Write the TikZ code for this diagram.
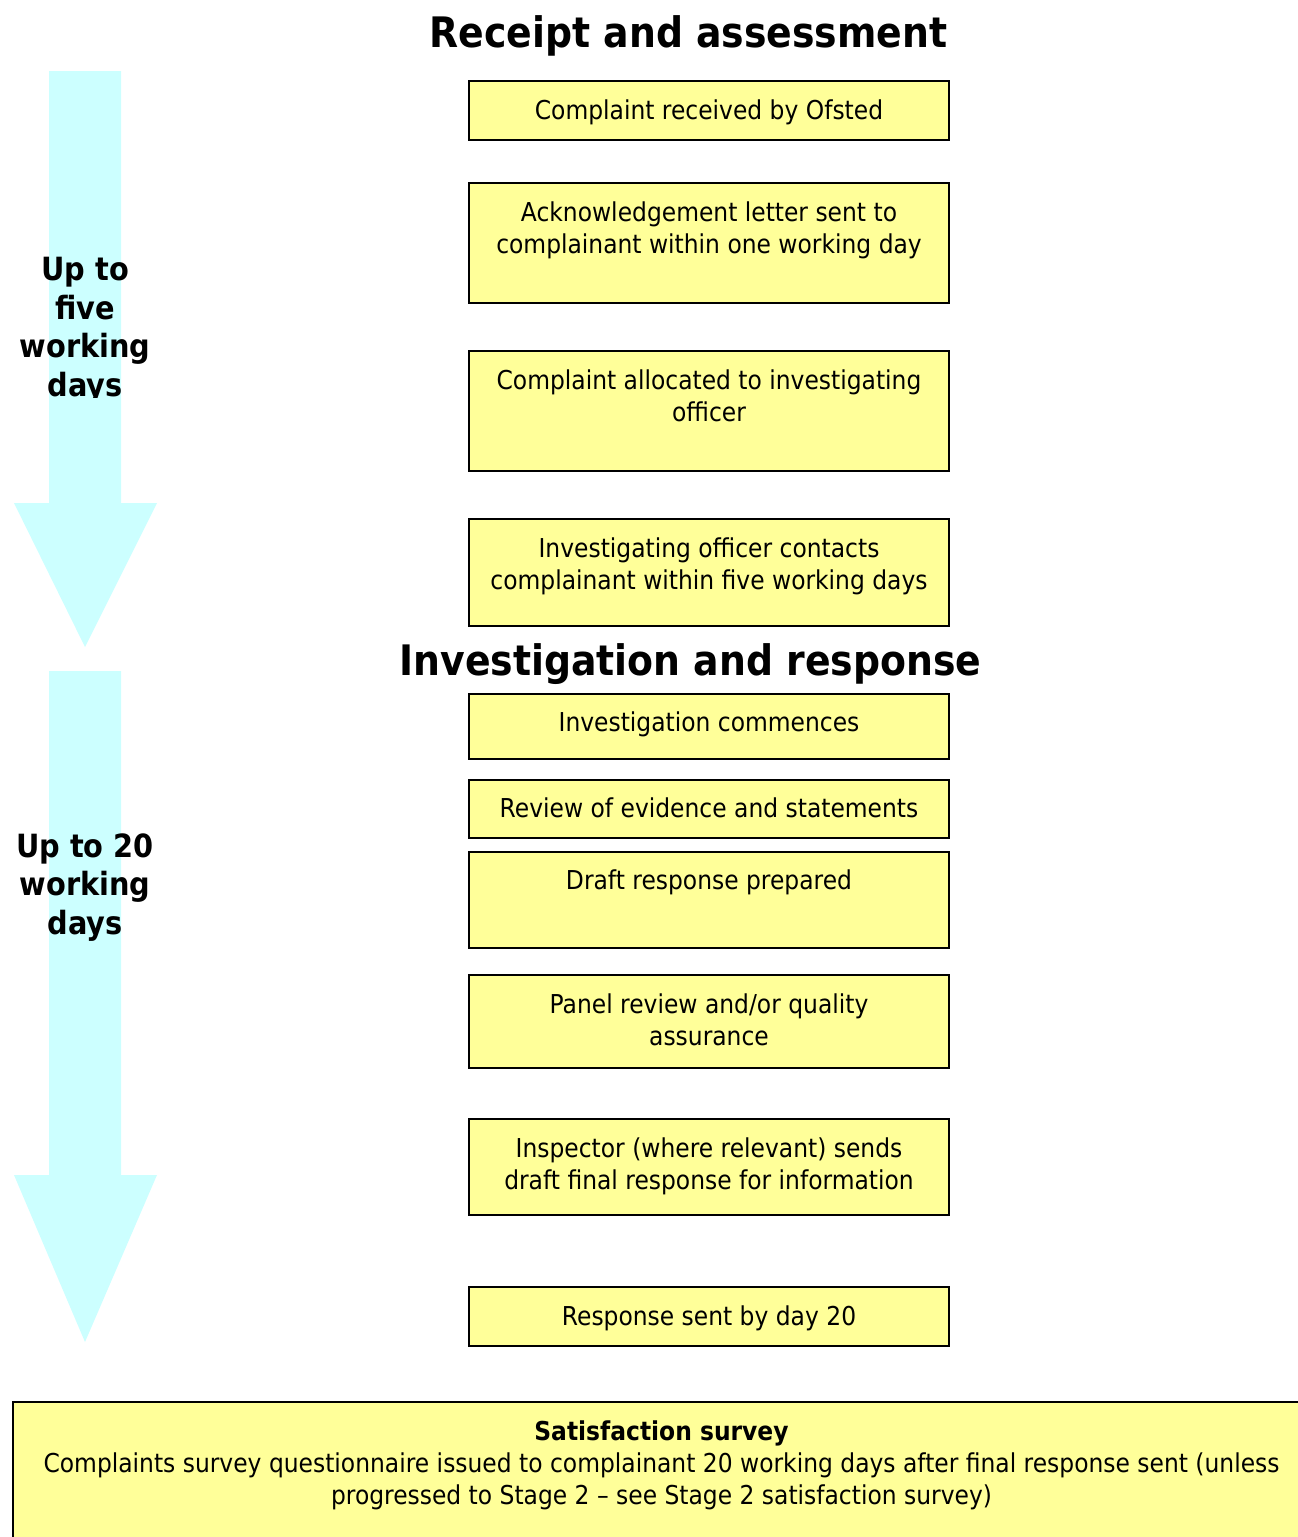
\documentclass[tikz,border=0pt]{standalone}
\usepackage{fontspec}
\setmainfont{DejaVu Sans}[FakeStretch=0.9]
\definecolor{boxyellow}{HTML}{FFFF99}
\definecolor{arrowcyan}{HTML}{CCFFFF}
\tikzset{
  stepbox/.style={draw=black, line width=1.6pt, fill=boxyellow, minimum width=480, inner sep=0pt},
  steptext/.style={anchor=base, align=center, inner sep=0pt, font=\fontsize{26}{32}\selectfont},
  heading/.style={anchor=base, inner sep=0pt, font=\fontsize{42}{46}\selectfont\bfseries},
  sidelabel/.style={anchor=base, align=center, inner sep=0pt, font=\fontsize{32}{38.5}\selectfont\bfseries},
  timearrow/.style={fill=arrowcyan}
}
\begin{document}
\begin{tikzpicture}[x=1pt,y=-1pt]
\useasboundingbox (0,0) rectangle (1298,1537);

% time arrows
\fill[timearrow] (49,71) -- (121,71) -- (121,503) -- (157,503) -- (85,647) -- (14,503) -- (49,503) -- cycle;
\fill[timearrow] (49,671) -- (121,671) -- (121,1175) -- (157,1175) -- (85,1342) -- (14,1175) -- (49,1175) -- cycle;

% side labels (anchor = baseline of last line)
\begin{scope}
\clip (0,0) rectangle (300,397);
\node[sidelabel] (l1) at (85,396) {Up to\\five\\working\\days};
\end{scope}
\node[sidelabel] (l2) at (85,934) {Up to 20\\working\\days};

% headings
\node[heading] (h1) at (688.5,47) {Receipt and assessment};
\node[heading] (h2) at (690.5,675) {Investigation and response};

% boxes
\node[stepbox, minimum height=59] (b1) at (709,110.5) {};
\node[stepbox, minimum height=120] (b2) at (709,243) {};
\node[stepbox, minimum height=120] (b3) at (709,411) {};
\node[stepbox, minimum height=107] (b4) at (709,572.5) {};
\node[stepbox, minimum height=65] (b5) at (709,726.5) {};
\node[stepbox, minimum height=58] (b6) at (709,809) {};
\node[stepbox, minimum height=96] (b7) at (709,900) {};
\node[stepbox, minimum height=93] (b8) at (709,1021.5) {};
\node[stepbox, minimum height=96] (b9) at (709,1167) {};
\node[stepbox, minimum height=59] (b10) at (709,1316.5) {};

% box texts (anchor = baseline of last line)
\node[steptext] (t1) at (709,119) {Complaint received by Ofsted};
\node[steptext] (t2) at (709,253) {Acknowledgement letter sent to\\complainant within one working day};
\node[steptext] (t3) at (709,421) {Complaint allocated to investigating\\officer};
\node[steptext] (t4) at (709,589) {Investigating officer contacts\\complainant within five working days};
\node[steptext] (t5) at (709,731) {Investigation commences};
\node[steptext] (t6) at (709,817) {Review of evidence and statements};
\node[steptext] (t7) at (709,889) {Draft response prepared};
\node[steptext] (t8) at (709,1045) {Panel review and/or quality\\assurance};
\node[steptext] (t9) at (709,1189) {Inspector (where relevant) sends\\draft final response for information};
\node[steptext] (t10) at (709,1325) {Response sent by day 20};

% satisfaction survey
\node[stepbox, minimum width=1297, minimum height=158] (sv) at (661.5,1481) {};
\node[steptext] (svt) at (661.5,1504) {\textbf{Satisfaction survey}\\Complaints survey questionnaire issued to complainant 20 working days after final response sent (unless\\progressed to Stage 2 – see Stage 2 satisfaction survey)};
\end{tikzpicture}
\end{document}
